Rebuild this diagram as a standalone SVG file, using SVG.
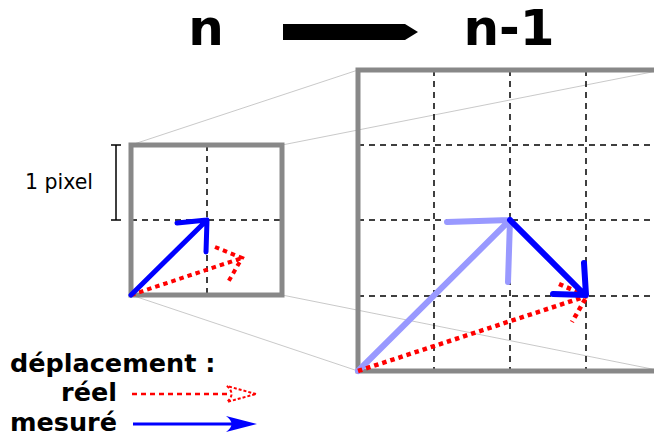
<svg xmlns="http://www.w3.org/2000/svg" width="654" height="436" viewBox="0 0 654 436">
<style>
.t{font-family:"DejaVu Sans","Liberation Sans",sans-serif;fill:#000}
.b{font-weight:bold}
.grid{stroke:#000;stroke-width:1.5;stroke-dasharray:6,5;fill:none}
.frame{stroke:#888;stroke-width:5;fill:none}
.proj{stroke:#bbb;stroke-width:0.8;fill:none}
.blue{stroke:#0000ff;fill:none;stroke-linecap:round;stroke-linejoin:round}
.lblue{stroke:#9999ff;fill:none;stroke-linecap:round;stroke-linejoin:round}
.red{stroke:#ff0000;fill:none;stroke-dasharray:4.5,4}
</style>
<rect width="654" height="436" fill="#fff"/>
<g id="title">
<text class="t b" x="206" y="45" font-size="50" text-anchor="middle">n</text>
<text class="t b" x="509" y="45" font-size="50" text-anchor="middle">n-1</text>
<path d="M283,24 H405 L418,32 L405,40 H283 Z" fill="#000"/>
</g>
<g id="projection">
<line class="proj" x1="131" y1="145" x2="358" y2="70"/>
<line class="proj" x1="282" y1="145" x2="662" y2="70"/>
<line class="proj" x1="131" y1="295" x2="358" y2="371"/>
<line class="proj" x1="282" y1="295" x2="662" y2="371"/>
</g>
<g id="small-square">
<line class="grid" x1="207" y1="145" x2="207" y2="295"/>
<line class="grid" x1="131" y1="220" x2="282" y2="220"/>
<rect class="frame" x="131" y="145" width="151" height="150"/>
</g>
<g id="scale">
<path d="M116,145 V220 M111,145 H121 M111,220 H121" stroke="#000" stroke-width="1.5" fill="none"/>
<text class="t" x="59" y="189" font-size="20.5" text-anchor="middle">1 pixel</text>
</g>
<g id="big-square">
<path class="grid" d="M434,70 V371 M510,70 V371 M586,70 V371 M358,145 H660 M358,220 H660 M358,296 H660"/>
<rect class="frame" x="358" y="70" width="304" height="301"/>
</g>
<g id="connectors">
<path class="red" stroke-width="4" d="M131,295 L242,258 M215,247 L242,258 L227,284"/>
<path class="blue" stroke-width="5" d="M131,295 L207,220 M177,223 L207,220 L206,252"/>
<path class="lblue" stroke-width="6" d="M358,371 L510,220 M447,222 L510,220 L508,282"/>
<path class="red" stroke-width="4.5" d="M358,371 L587,296 M559,284 L587,296 L572,322"/>
<path class="blue" stroke-width="6" d="M510,220 L585,295 M553,294 L586,295 L584,263"/>
</g>
<g id="legend">
<text class="t b" x="10" y="372" font-size="25.5">déplacement :</text>
<text class="t b" x="117" y="401" font-size="25.5" text-anchor="end">réel</text>
<text class="t b" x="117" y="431" font-size="25.5" text-anchor="end">mesuré</text>
<line x1="132" y1="394" x2="228" y2="394" stroke="#ff0000" stroke-width="2.5" stroke-dasharray="5,4"/>
<path d="M256,394 L227,386 Q236,394 227,402 Z" fill="none" stroke="#ff0000" stroke-width="2" stroke-dasharray="3,2"/>
<line x1="133" y1="424" x2="240" y2="424" stroke="#0000ff" stroke-width="3"/>
<path d="M257,424 L226,416 Q237,424 226,432 Z" fill="#0000ff"/>
</g>
</svg>
